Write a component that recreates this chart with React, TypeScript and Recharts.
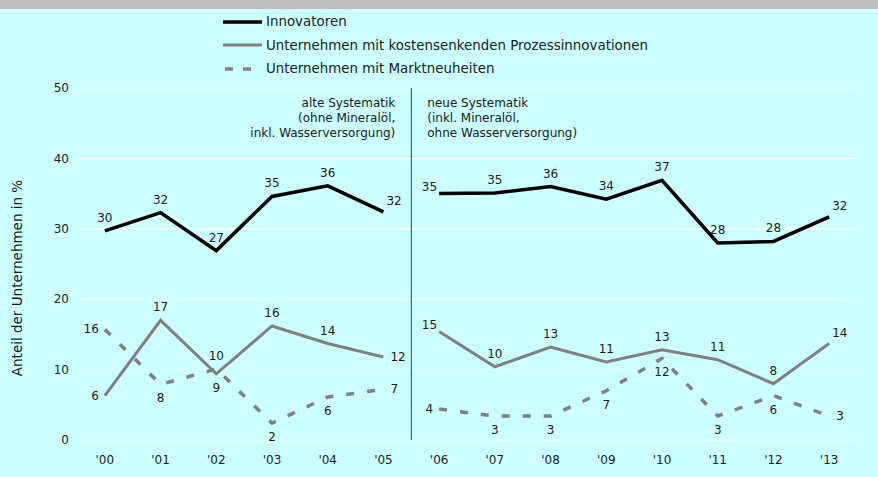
import {
  LineChart,
  Line,
  XAxis,
  YAxis,
  CartesianGrid,
  ReferenceLine,
  LabelList,
  Legend,
} from "recharts";

const years = ["'00", "'01", "'02", "'03", "'04", "'05", "'06", "'07", "'08", "'09", "'10", "'11", "'12", "'13"];

// alte Systematik ('00–'05) / neue Systematik ('06–'13)
const innovatorenAlt = [29.7, 32.3, 26.9, 34.6, 36.1, 32.4];
const innovatorenNeu = [35.0, 35.1, 36.0, 34.2, 36.9, 28.0, 28.2, 31.7];
const prozessAlt = [6.3, 17.0, 9.4, 16.2, 13.7, 11.8];
const prozessNeu = [15.4, 10.4, 13.2, 11.1, 12.8, 11.4, 8.0, 13.7];
const marktAlt = [15.7, 7.9, 10.1, 2.4, 6.1, 7.2];
const marktNeu = [4.4, 3.4, 3.4, 7.0, 11.6, 3.4, 6.3, 3.4];

const yTicks = [0, 10, 20, 30, 40, 50];

// where each value label sits relative to its point
const innoAltPos = ["top", "top", "top", "top", "top", "topRight"];
const innoNeuPos = ["topLeft", "top", "top", "top", "top", "top", "top", "topRight"];
const prozAltPos = ["left", "top", "bottom", "top", "top", "right"];
const prozNeuPos = ["topLeft", "top", "top", "top", "top", "top", "top", "topRight"];
const marktAltPos = ["left", "bottom", "top", "bottom", "bottom", "right"];
const marktNeuPos = ["left", "bottom", "bottom", "bottom", "bottom", "bottom", "bottom", "right"];

const SPLIT = innovatorenAlt.length;
const FONT = "'DejaVu Sans', Verdana, sans-serif";
const TEXT = "#1a1a1a";
const GRAY = "#808080";

const data = years.map((label, i) => ({
  i,
  label,
  innoAlt: i < SPLIT ? innovatorenAlt[i] : null,
  innoNeu: i >= SPLIT ? innovatorenNeu[i - SPLIT] : null,
  prozAlt: i < SPLIT ? prozessAlt[i] : null,
  prozNeu: i >= SPLIT ? prozessNeu[i - SPLIT] : null,
  marktAlt: i < SPLIT ? marktAlt[i] : null,
  marktNeu: i >= SPLIT ? marktNeu[i - SPLIT] : null,
}));

const OFFSETS: Record<string, { dx: number; dy: number; anchor: string }> = {
  top: { dx: 0, dy: -13, anchor: "middle" },
  bottom: { dx: 0, dy: 14, anchor: "middle" },
  left: { dx: -6, dy: 0, anchor: "end" },
  right: { dx: 7, dy: 0, anchor: "start" },
  topRight: { dx: 3, dy: -11, anchor: "start" },
  topLeft: { dx: -2, dy: -7, anchor: "end" },
};

function makeLabel(places: string[], start: number) {
  return (props: any) => {
    const { x, y, value, index } = props;
    if (value == null || x == null || y == null) return null;
    const p = OFFSETS[places[index - start]] || OFFSETS.top;
    return (
      <text
        x={x + p.dx}
        y={y + p.dy}
        textAnchor={p.anchor}
        dominantBaseline="central"
        fontSize={12}
        fontFamily={FONT}
        fill={TEXT}
      >
        {Math.round(value)}
      </text>
    );
  };
}

const legendItems = [
  { label: "Innovatoren", color: "#000000", dash: undefined, width: 3.5 },
  { label: "Unternehmen mit kostensenkenden Prozessinnovationen", color: GRAY, dash: undefined, width: 3 },
  { label: "Unternehmen mit Marktneuheiten", color: GRAY, dash: "8 10", width: 3.5 },
];

function LegendContent() {
  return (
    <div style={{ fontFamily: FONT, fontSize: 13.4, color: TEXT }}>
      {legendItems.map((it) => (
        <div key={it.label} style={{ display: "flex", alignItems: "center", height: 23.5 }}>
          <svg width={39} height={6} style={{ marginRight: 4 }}>
            <line
              x1={it.dash ? 2 : 0}
              x2={it.dash ? 30 : 39}
              y1={3}
              y2={3}
              stroke={it.color}
              strokeWidth={it.width}
              strokeDasharray={it.dash}
            />
          </svg>
          <span style={{ whiteSpace: "nowrap" }}>{it.label}</span>
        </div>
      ))}
    </div>
  );
}

function SystematikLabel(props: any) {
  const vb = props.viewBox || {};
  const x = vb.x ?? 0;
  const y = vb.y ?? 0;
  const alt = ["alte Systematik", "(ohne Mineralöl,", "inkl. Wasserversorgung)"];
  const neu = ["neue Systematik", "(inkl. Mineralöl,", "ohne Wasserversorgung)"];
  return (
    <g fontFamily={FONT} fontSize={12} fill={TEXT}>
      {alt.map((t, k) => (
        <text key={"a" + k} x={x - 16} y={y + 19 + k * 15} textAnchor="end">
          {t}
        </text>
      ))}
      {neu.map((t, k) => (
        <text key={"n" + k} x={x + 16} y={y + 19 + k * 15} textAnchor="start">
          {t}
        </text>
      ))}
    </g>
  );
}

export default function App() {
  return (
    <div
      style={{
        position: "fixed",
        left: 0,
        top: 0,
        width: 878,
        height: 477,
        background: "#ccffff",
        overflow: "hidden",
      }}
    >
      <div style={{ position: "absolute", left: 0, top: 0, width: 878, height: 9, background: "#c0c0c0" }} />
      <div
        style={{
          position: "absolute",
          left: 17,
          top: 278,
          transform: "translate(-50%, -50%) rotate(-90deg)",
          fontFamily: FONT,
          fontSize: 13.5,
          color: TEXT,
          whiteSpace: "nowrap",
        }}
      >
        Anteil der Unternehmen in %
      </div>
      <div style={{ position: "absolute", left: 0, top: 0 }}>
        <LineChart width={878} height={477} data={data} margin={{ top: 88, right: 21, bottom: 7, left: 0 }}>
          <CartesianGrid horizontal vertical={false} stroke="#ffffff" strokeWidth={1} />
          <XAxis
            dataKey="i"
            type="number"
            domain={[-0.5, 13.5]}
            ticks={years.map((_, i) => i)}
            tickFormatter={(v) => years[v] ?? ""}
            axisLine={false}
            tickLine={false}
            height={30}
            tickMargin={9}
            tick={{ fontSize: 12, fill: TEXT, fontFamily: FONT }}
          />
          <YAxis
            domain={[0, 50]}
            ticks={yTicks}
            axisLine={false}
            tickLine={false}
            width={77}
            tickMargin={2}
            tick={{ fontSize: 12, fill: TEXT, fontFamily: FONT }}
          />
          <ReferenceLine x={SPLIT - 0.5} stroke="#404040" strokeWidth={1} label={<SystematikLabel />} />
          <Legend
            layout="horizontal"
            verticalAlign="middle"
            align="center"
            wrapperStyle={{ top: 10, left: 223, width: "auto" }}
            content={<LegendContent />}
          />
          <Line dataKey="marktAlt" stroke={GRAY} strokeWidth={3.5} strokeDasharray="8 13" dot={false} isAnimationActive={false}>
            <LabelList dataKey="marktAlt" content={makeLabel(marktAltPos, 0)} />
          </Line>
          <Line dataKey="marktNeu" stroke={GRAY} strokeWidth={3.5} strokeDasharray="8 13" dot={false} isAnimationActive={false}>
            <LabelList dataKey="marktNeu" content={makeLabel(marktNeuPos, SPLIT)} />
          </Line>
          <Line dataKey="prozAlt" stroke={GRAY} strokeWidth={3} dot={false} isAnimationActive={false}>
            <LabelList dataKey="prozAlt" content={makeLabel(prozAltPos, 0)} />
          </Line>
          <Line dataKey="prozNeu" stroke={GRAY} strokeWidth={3} dot={false} isAnimationActive={false}>
            <LabelList dataKey="prozNeu" content={makeLabel(prozNeuPos, SPLIT)} />
          </Line>
          <Line dataKey="innoAlt" stroke="#000000" strokeWidth={3.5} dot={false} isAnimationActive={false}>
            <LabelList dataKey="innoAlt" content={makeLabel(innoAltPos, 0)} />
          </Line>
          <Line dataKey="innoNeu" stroke="#000000" strokeWidth={3.5} dot={false} isAnimationActive={false}>
            <LabelList dataKey="innoNeu" content={makeLabel(innoNeuPos, SPLIT)} />
          </Line>
        </LineChart>
      </div>
    </div>
  );
}
